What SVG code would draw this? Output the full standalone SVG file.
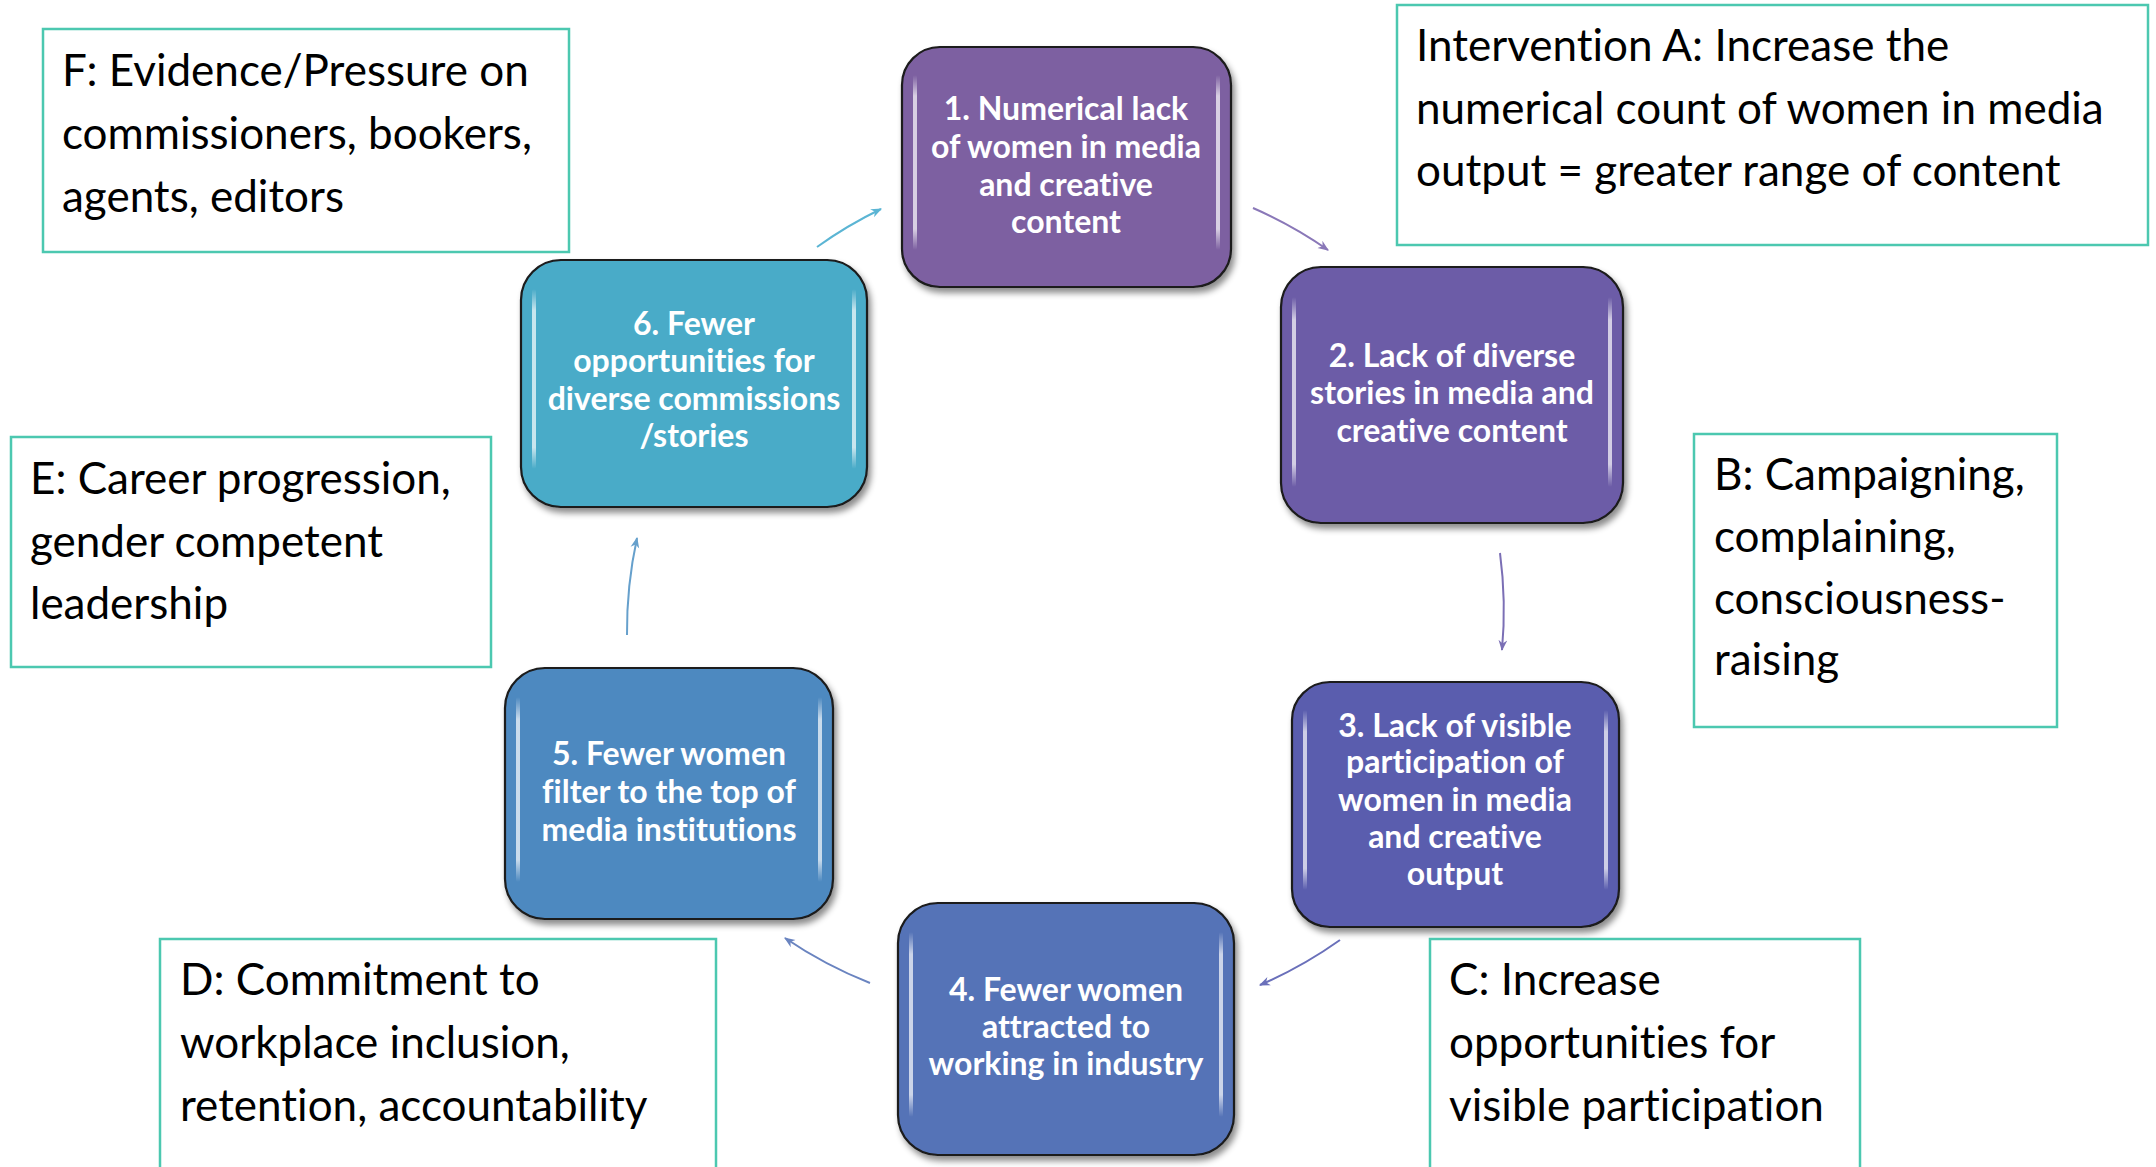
<svg xmlns="http://www.w3.org/2000/svg" width="2156" height="1167" viewBox="0 0 2156 1167">
  <style>
    text { font-variant-ligatures: none; }
    .node-box { stroke: #1a1a1a; stroke-width: 2.2; filter: url(#shadow); }
    .node-label { font-family: Lato, "Liberation Sans", sans-serif; font-weight: bold; font-size: 32px; fill: #ffffff; text-anchor: middle; }
    .note-box { fill: #ffffff; stroke: #4cc8b0; stroke-width: 2.5; }
    .note-text { font-family: Lato, "Liberation Sans", sans-serif; font-size: 44px; fill: #000000; }
    .shine { fill: url(#shineGrad); }
    .link { fill: none; stroke-width: 2; }
  </style>
  <defs>
    <filter id="shadow" x="-10%" y="-10%" width="125%" height="130%">
      <feDropShadow dx="3" dy="5" stdDeviation="3" flood-color="#000000" flood-opacity="0.45"/>
    </filter>
    <linearGradient id="shineGrad" x1="0" y1="0" x2="0" y2="1">
      <stop offset="0" stop-color="#ffffff" stop-opacity="0"/>
      <stop offset="0.12" stop-color="#ffffff" stop-opacity="0.7"/>
      <stop offset="0.88" stop-color="#ffffff" stop-opacity="0.7"/>
      <stop offset="1" stop-color="#ffffff" stop-opacity="0"/>
    </linearGradient>
    <marker id="ah1" viewBox="0 0 10 10" refX="9" refY="5" markerWidth="11" markerHeight="11" markerUnits="userSpaceOnUse" orient="auto"><path d="M0,1 L10,5 L0,9 L3,5 Z" fill="#8a78b8"/></marker>
    <marker id="ah2" viewBox="0 0 10 10" refX="9" refY="5" markerWidth="11" markerHeight="11" markerUnits="userSpaceOnUse" orient="auto"><path d="M0,1 L10,5 L0,9 L3,5 Z" fill="#7b6fb5"/></marker>
    <marker id="ah3" viewBox="0 0 10 10" refX="9" refY="5" markerWidth="11" markerHeight="11" markerUnits="userSpaceOnUse" orient="auto"><path d="M0,1 L10,5 L0,9 L3,5 Z" fill="#6a70ba"/></marker>
    <marker id="ah4" viewBox="0 0 10 10" refX="9" refY="5" markerWidth="11" markerHeight="11" markerUnits="userSpaceOnUse" orient="auto"><path d="M0,1 L10,5 L0,9 L3,5 Z" fill="#6a84c0"/></marker>
    <marker id="ah5" viewBox="0 0 10 10" refX="9" refY="5" markerWidth="11" markerHeight="11" markerUnits="userSpaceOnUse" orient="auto"><path d="M0,1 L10,5 L0,9 L3,5 Z" fill="#66a0cc"/></marker>
    <marker id="ah6" viewBox="0 0 10 10" refX="9" refY="5" markerWidth="11" markerHeight="11" markerUnits="userSpaceOnUse" orient="auto"><path d="M0,1 L10,5 L0,9 L3,5 Z" fill="#5bb5d4"/></marker>
  </defs>

  <rect width="2156" height="1167" fill="#ffffff"/>

  <!-- cycle connectors: arcs of one circle centred at (1066,600) -->
  <g id="connectors">
    <path class="link" stroke="#8a78b8" marker-end="url(#ah1)" d="M1253,208 A435,435 0 0 1 1328,250"/>
    <path class="link" stroke="#7b6fb5" marker-end="url(#ah2)" d="M1500,553 A435,435 0 0 1 1502,650"/>
    <path class="link" stroke="#6a70ba" marker-end="url(#ah3)" d="M1340,940 A435,435 0 0 1 1260,985"/>
    <path class="link" stroke="#6a84c0" marker-end="url(#ah4)" d="M870,983 A435,435 0 0 1 785,938"/>
    <path class="link" stroke="#66a0cc" marker-end="url(#ah5)" d="M627,635 A435,435 0 0 1 637,538"/>
    <path class="link" stroke="#5bb5d4" marker-end="url(#ah6)" d="M817,247 A435,435 0 0 1 881,209"/>
  </g>

  <!-- cycle steps -->
  <g id="step1">
    <rect class="node-box" x="902" y="47" width="329" height="240" rx="38" fill="#7d61a1"/>
    <rect class="shine" x="913" y="75" width="4" height="175" rx="2"/>
    <rect class="shine" x="1216" y="75" width="4" height="175" rx="2"/>
    <text class="node-label" x="1066" y="120">1. Numerical lack</text>
    <text class="node-label" x="1066" y="158">of women in media</text>
    <text class="node-label" x="1066" y="196">and creative</text>
    <text class="node-label" x="1066" y="233">content</text>
  </g>

  <g id="step2">
    <rect class="node-box" x="1281" y="267" width="342" height="256" rx="40" fill="#6c5ba7"/>
    <rect class="shine" x="1292" y="297" width="4" height="190" rx="2"/>
    <rect class="shine" x="1608" y="297" width="4" height="190" rx="2"/>
    <text class="node-label" x="1452" y="367">2. Lack of diverse</text>
    <text class="node-label" x="1452" y="404">stories in media and</text>
    <text class="node-label" x="1452" y="442">creative content</text>
  </g>

  <g id="step3">
    <rect class="node-box" x="1292" y="682" width="327" height="245" rx="38" fill="#5a5dae"/>
    <rect class="shine" x="1303" y="710" width="4" height="180" rx="2"/>
    <rect class="shine" x="1604" y="710" width="4" height="180" rx="2"/>
    <text class="node-label" x="1455" y="737">3. Lack of visible</text>
    <text class="node-label" x="1455" y="773">participation of</text>
    <text class="node-label" x="1455" y="811">women in media</text>
    <text class="node-label" x="1455" y="848">and creative</text>
    <text class="node-label" x="1455" y="885">output</text>
  </g>

  <g id="step4">
    <rect class="node-box" x="898" y="903" width="336" height="252" rx="40" fill="#5473b7"/>
    <rect class="shine" x="909" y="932" width="4" height="185" rx="2"/>
    <rect class="shine" x="1219" y="932" width="4" height="185" rx="2"/>
    <text class="node-label" x="1066" y="1001">4. Fewer women</text>
    <text class="node-label" x="1066" y="1038">attracted to</text>
    <text class="node-label" x="1066" y="1075">working in industry</text>
  </g>

  <g id="step5">
    <rect class="node-box" x="505" y="668" width="328" height="251" rx="40" fill="#4e89c0"/>
    <rect class="shine" x="516" y="697" width="4" height="185" rx="2"/>
    <rect class="shine" x="818" y="697" width="4" height="185" rx="2"/>
    <text class="node-label" x="669" y="765">5. Fewer women</text>
    <text class="node-label" x="669" y="803">filter to the top of</text>
    <text class="node-label" x="669" y="841">media institutions</text>
  </g>

  <g id="step6">
    <rect class="node-box" x="521" y="260" width="346" height="247" rx="40" fill="#4aabc8"/>
    <rect class="shine" x="532" y="289" width="4" height="180" rx="2"/>
    <rect class="shine" x="852" y="289" width="4" height="180" rx="2"/>
    <text class="node-label" x="694" y="335">6. Fewer</text>
    <text class="node-label" x="694" y="372">opportunities for</text>
    <text class="node-label" x="694" y="410">diverse commissions</text>
    <text class="node-label" x="694" y="447">/stories</text>
  </g>

  <!-- intervention notes -->
  <g id="noteA">
    <rect class="note-box" x="1397" y="5" width="751" height="240"/>
    <text class="note-text" x="1416" y="61">Intervention A: Increase the</text>
    <text class="note-text" x="1416" y="124">numerical count of women in media</text>
    <text class="note-text" x="1416" y="186">output = greater range of content</text>
  </g>

  <g id="noteB">
    <rect class="note-box" x="1694" y="434" width="363" height="293"/>
    <text class="note-text" x="1714" y="490">B: Campaigning,</text>
    <text class="note-text" x="1714" y="552">complaining,</text>
    <text class="note-text" x="1714" y="614">consciousness-</text>
    <text class="note-text" x="1714" y="675">raising</text>
  </g>

  <g id="noteC">
    <rect class="note-box" x="1430" y="939" width="430" height="240"/>
    <text class="note-text" x="1449" y="995">C: Increase</text>
    <text class="note-text" x="1449" y="1058">opportunities for</text>
    <text class="note-text" x="1449" y="1121">visible participation</text>
  </g>

  <g id="noteD">
    <rect class="note-box" x="160" y="939" width="556" height="240"/>
    <text class="note-text" x="180" y="995">D: Commitment to</text>
    <text class="note-text" x="180" y="1058">workplace inclusion,</text>
    <text class="note-text" x="180" y="1121">retention, accountability</text>
  </g>

  <g id="noteE">
    <rect class="note-box" x="11" y="437" width="480" height="230"/>
    <text class="note-text" x="30" y="494">E: Career progression,</text>
    <text class="note-text" x="30" y="557">gender competent</text>
    <text class="note-text" x="30" y="619">leadership</text>
  </g>

  <g id="noteF">
    <rect class="note-box" x="43" y="29" width="526" height="223"/>
    <text class="note-text" x="62" y="86">F: Evidence/Pressure on</text>
    <text class="note-text" x="62" y="149">commissioners, bookers,</text>
    <text class="note-text" x="62" y="212">agents, editors</text>
  </g>
</svg>
